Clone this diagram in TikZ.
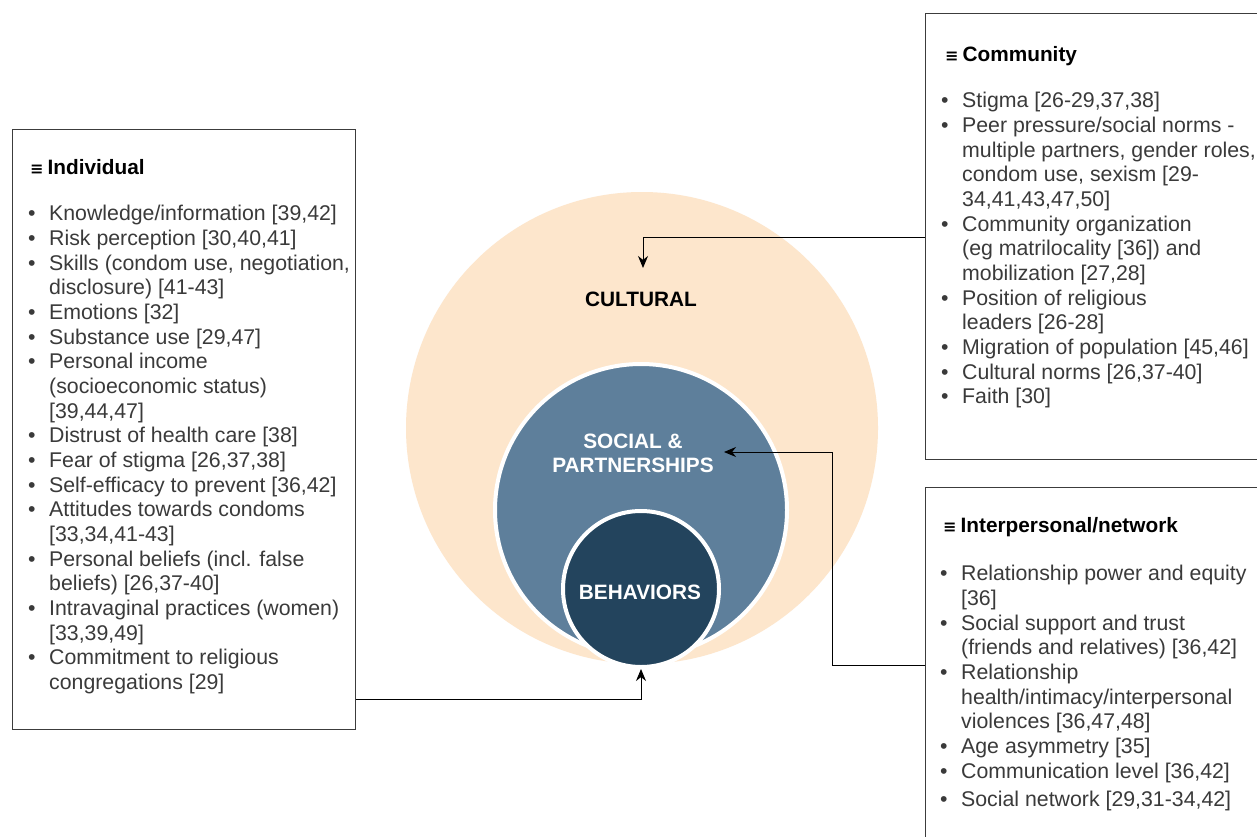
\documentclass[tikz,border=0pt]{standalone}
\usepackage{fontspec}
\setmainfont{Liberation Sans}
\newfontfamily\dejavu{DejaVu Sans}
\usetikzlibrary{arrows.meta}
\definecolor{peach}{HTML}{FDE6CC}
\definecolor{steel}{HTML}{5E7F9B}
\definecolor{navy}{HTML}{23445D}
\definecolor{txtgray}{HTML}{3A3A3A}
\definecolor{boxline}{HTML}{3C3C3C}
\newcommand\bitem[1]{\strut\makebox[21pt][l]{•}#1}
\newcommand\bcont[1]{\strut\hspace*{21pt}#1}
\newcommand\hsym{{\dejavu\bfseries\fontsize{16}{16}\selectfont ≡}\hspace{4pt}}
\tikzset{
  boxnode/.style={draw=boxline, line width=1.3pt, fill=white, rectangle, inner sep=0pt, anchor=north west},
  bodytext/.style={anchor=north west, inner sep=0pt, align=left, text=txtgray,
    font=\fontsize{21.3}{24.65}\selectfont},
  headtext/.style={anchor=base west, inner sep=0pt, text=black,
    font=\bfseries\fontsize{20.8}{24}\selectfont},
  circlabel/.style={inner sep=0pt, align=center, font=\bfseries\fontsize{20.8}{24}\selectfont},
  arr/.style={draw=black, line width=1pt, -{Stealth[length=12pt,width=10pt]}},
}
\begin{document}
\begin{tikzpicture}[x=1pt,y=-1pt]
\useasboundingbox (0,0) rectangle (1257,837);
\clip (0,0) rectangle (1257,837);
\fill[white] (0,0) rectangle (1257,837);

% circles
\node[circle, fill=peach, minimum size=472pt, inner sep=0pt] (cult) at (642,428) {};
\node[circle, fill=steel, draw=white, line width=4pt, minimum size=292pt, inner sep=0pt] (soc) at (641,510) {};
\node[circle, fill=navy, draw=white, line width=4pt, minimum size=156pt, inner sep=0pt] (beh) at (641,589) {};

\node[circlabel, text=black] (cultl) at (641,299) {CULTURAL};
\node[circlabel, text=white] (socl) at (633,453) {SOCIAL \&\\PARTNERSHIPS};
\node[circlabel, text=white] (behl) at (640,592) {BEHAVIORS};

% boxes
\node[boxnode, minimum width=343pt, minimum height=600pt] (ind) at (12,129) {};
\node[boxnode, minimum width=400pt, minimum height=446pt] (com) at (925,13) {};
\node[boxnode, minimum width=400pt, minimum height=400pt] (inter) at (925,487) {};

% headings
\node[headtext] (indh) at (30,174.5) {\hsym Individual};
\node[headtext] (comh) at (945,61.5) {\hsym Community};
\node[headtext] (interh) at (943,532.5) {\hsym Interpersonal/network};

% individual list
\node[bodytext] (indt) at (28,203.5) {%
\bitem{Knowledge/information [39,42]}\\
\bitem{Risk perception [30,40,41]}\\
\bitem{Skills (condom use, negotiation,}\\
\bcont{disclosure) [41-43]}\\
\bitem{Emotions [32]}\\
\bitem{Substance use [29,47]}\\
\bitem{Personal income}\\
\bcont{(socioeconomic status)}\\
\bcont{[39,44,47]}\\
\bitem{Distrust of health care [38]}\\
\bitem{Fear of stigma [26,37,38]}\\
\bitem{Self-efficacy to prevent [36,42]}\\
\bitem{Attitudes towards condoms}\\
\bcont{[33,34,41-43]}\\
\bitem{Personal beliefs (incl. false}\\
\bcont{beliefs) [26,37-40]}\\
\bitem{Intravaginal practices (women)}\\
\bcont{[33,39,49]}\\
\bitem{Commitment to religious}\\
\bcont{congregations [29]}};

% community list
\node[bodytext] (comt) at (941,90.4) {%
\bitem{Stigma [26-29,37,38]}\\
\bitem{Peer pressure/social norms -}\\
\bcont{multiple partners, gender roles,}\\
\bcont{condom use, sexism [29-}\\
\bcont{34,41,43,47,50]}\\
\bitem{Community organization}\\
\bcont{(eg matrilocality [36]) and}\\
\bcont{mobilization [27,28]}\\
\bitem{Position of religious}\\
\bcont{leaders [26-28]}\\
\bitem{Migration of population [45,46]}\\
\bitem{Cultural norms [26,37-40]}\\
\bitem{Faith [30]}};

% interpersonal list
\node[bodytext] (intert) at (940,563.5) {%
\bitem{Relationship power and equity}\\
\bcont{[36]}\\
\bitem{Social support and trust}\\
\bcont{(friends and relatives) [36,42]}\\
\bitem{Relationship}\\
\bcont{health/intimacy/interpersonal}\\
\bcont{violences [36,47,48]}\\
\bitem{Age asymmetry [35]}\\
\bitem{Communication level [36,42]}\\[4pt]
\bitem{Social network [29,31-34,42]}};

% connectors
\coordinate (cTip) at (643,268);
\coordinate (sTip) at (724,452);
\draw[arr] (com.west |- 0,237) -| (cTip);
\draw[arr] (inter.west |- 0,665) -- ++(-93,0) |- (sTip);
\draw[arr] (ind.east |- 0,699) -| (beh.south);
\end{tikzpicture}
\end{document}
